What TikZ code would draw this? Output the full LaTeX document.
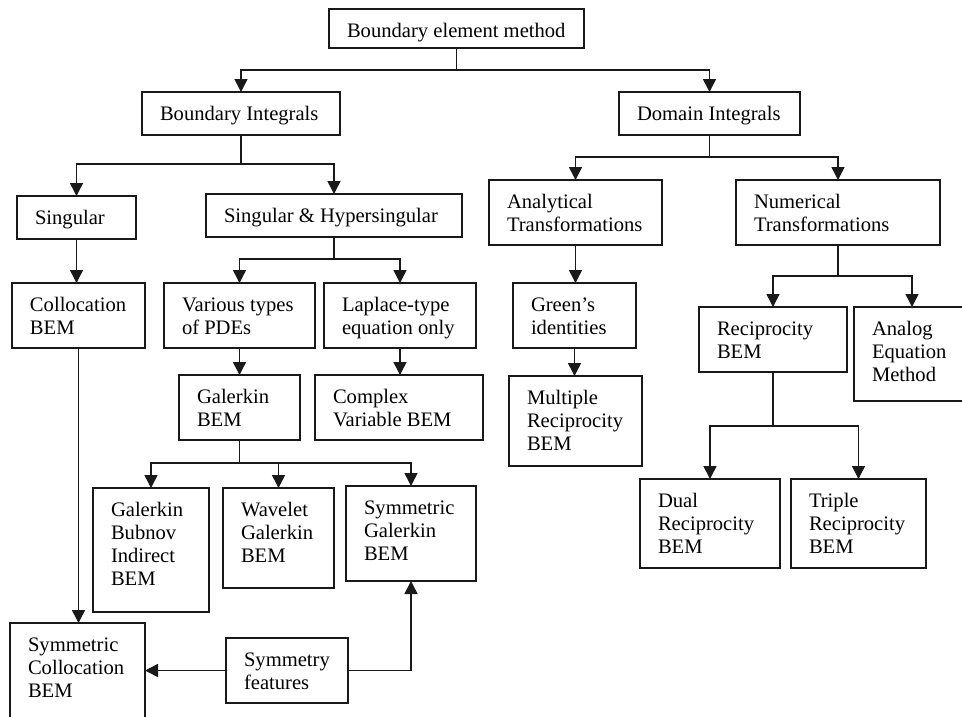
\documentclass[tikz,border=0pt]{standalone}
\usepackage{fontspec}
\setmainfont{Liberation Serif}
\usetikzlibrary{arrows.meta}

% box text: width, height, lines
\newcommand{\bemtxt}[3]{\parbox[c][#2pt][t]{#1pt}{\raggedright\leftskip=18pt\rule{0pt}{28pt}#3}}

\begin{document}
\begin{tikzpicture}[x=1pt, y=-1pt,
    bembox/.style = {draw=black!90, line width=1.5pt, anchor=north west, inner sep=0pt, outer sep=0pt,
                     font=\fontsize{20.6}{23}\selectfont},
    link/.style = {draw=black!90, line width=1.5pt, -{Triangle[width=13pt, length=13pt]}}]
\useasboundingbox (0,0) rectangle (962,716);

\node[bembox] (bem)  at (329,9)   {\bemtxt{255}{39}{Boundary element method}};
\node[bembox] (bi)   at (142,92)  {\bemtxt{198}{43}{Boundary Integrals}};
\node[bembox] (di)   at (619,92)  {\bemtxt{181}{43}{Domain Integrals}};
\node[bembox] (sing) at (17,196)  {\bemtxt{119}{43}{Singular}};
\node[bembox] (sh)   at (206,194) {\bemtxt{256}{43}{Singular \& Hypersingular}};
\node[bembox] (coll) at (12,283)  {\bemtxt{133}{65}{Collocation\\BEM}};
\node[bembox] (pde)  at (164,283) {\bemtxt{151}{65}{Various types\\of PDEs}};
\node[bembox] (lap)  at (324,283) {\bemtxt{152}{65}{Laplace-type\\equation only}};
\node[bembox] (gal)  at (179,375) {\bemtxt{121}{65}{Galerkin\\BEM}};
\node[bembox] (cvb)  at (315,375) {\bemtxt{168}{65}{Complex\\Variable BEM}};
\node[bembox] (gbib) at (93,488)  {\bemtxt{116}{124}{Galerkin\\Bubnov\\Indirect\\BEM}};
\node[bembox] (wgb)  at (223,488) {\bemtxt{111}{100}{Wavelet\\Galerkin\\BEM}};
\node[bembox] (sgb)  at (346,486) {\bemtxt{130}{95}{Symmetric\\Galerkin\\BEM}};
\node[bembox] (scb)  at (10,623)  {\bemtxt{135}{107}{Symmetric\\Collocation\\BEM}};
\node[bembox] (symf) at (226,638) {\bemtxt{122}{65}{Symmetry\\features}};
\node[bembox] (at)   at (489,180) {\bemtxt{173}{65}{Analytical\\Transformations}};
\node[bembox] (nt)   at (736,180) {\bemtxt{204}{65}{Numerical\\Transformations}};
\node[bembox] (gi)   at (513,283) {\bemtxt{123}{65}{Green’s\\identities}};
\node[bembox] (mrb)  at (509,376) {\bemtxt{133}{90}{Multiple\\Reciprocity\\BEM}};
\node[bembox] (rb)   at (699,307) {\bemtxt{148}{65}{Reciprocity\\BEM}};
\node[bembox] (aem)  at (854,307) {\bemtxt{116}{94}{Analog\\Equation\\Method}};
\node[bembox] (drb)  at (640,479) {\bemtxt{140}{89}{Dual\\Reciprocity\\BEM}};
\node[bembox] (trb)  at (791,479) {\bemtxt{135}{89}{Triple\\Reciprocity\\BEM}};

% tree links
\draw[link] (bem.south) -- ++(0,22) -| (bi.north);
\draw[link] (bem.south) -- ++(0,22) -| (di.north);
\draw[link] (bi.south) -- ++(0,29) -| (sing.north);
\draw[link] (bi.south) -- ++(0,29) -| (sh.north);
\draw[link] (sh.south) -- ++(0,22) -| (pde.north);
\draw[link] (sh.south) -- ++(0,22) -| (lap.north);
\draw[link] (gal.south) -- ++(0,23) -| (gbib.north);
\draw[link] (gal.south) -- ++(0,23) -| (wgb.north);
\draw[link] (gal.south) -- ++(0,23) -| (sgb.north);
\draw[link] (di.south) -- ++(0,22) -| (at.north);
\draw[link] (di.south) -- ++(0,22) -| (nt.north);
\draw[link] (nt.south) -- ++(0,31) -| (rb.north);
\draw[link] (nt.south) -- ++(0,31) -| (aem.north);
\draw[link] (rb.south) -- ++(0,54) -| (drb.north);
\draw[link] (rb.south) -- ++(0,54) -| (trb.north);

% straight links
\draw[link] (sing.south) -- (sing.south |- coll.north);
\draw[link] (coll.south) -- (coll.south |- scb.north);
\draw[link] (pde.south) -- (gal.north);
\draw[link] (lap.south) -- (lap.south |- cvb.north);
\draw[link] (at.south) -- (at.south |- gi.north);
\draw[link] (gi.south) -- (gi.south |- mrb.north);
\draw[link] (symf.west) -- (symf.west -| scb.east);
\draw[link] (symf.east) -| (sgb.south);
\end{tikzpicture}
\end{document}
